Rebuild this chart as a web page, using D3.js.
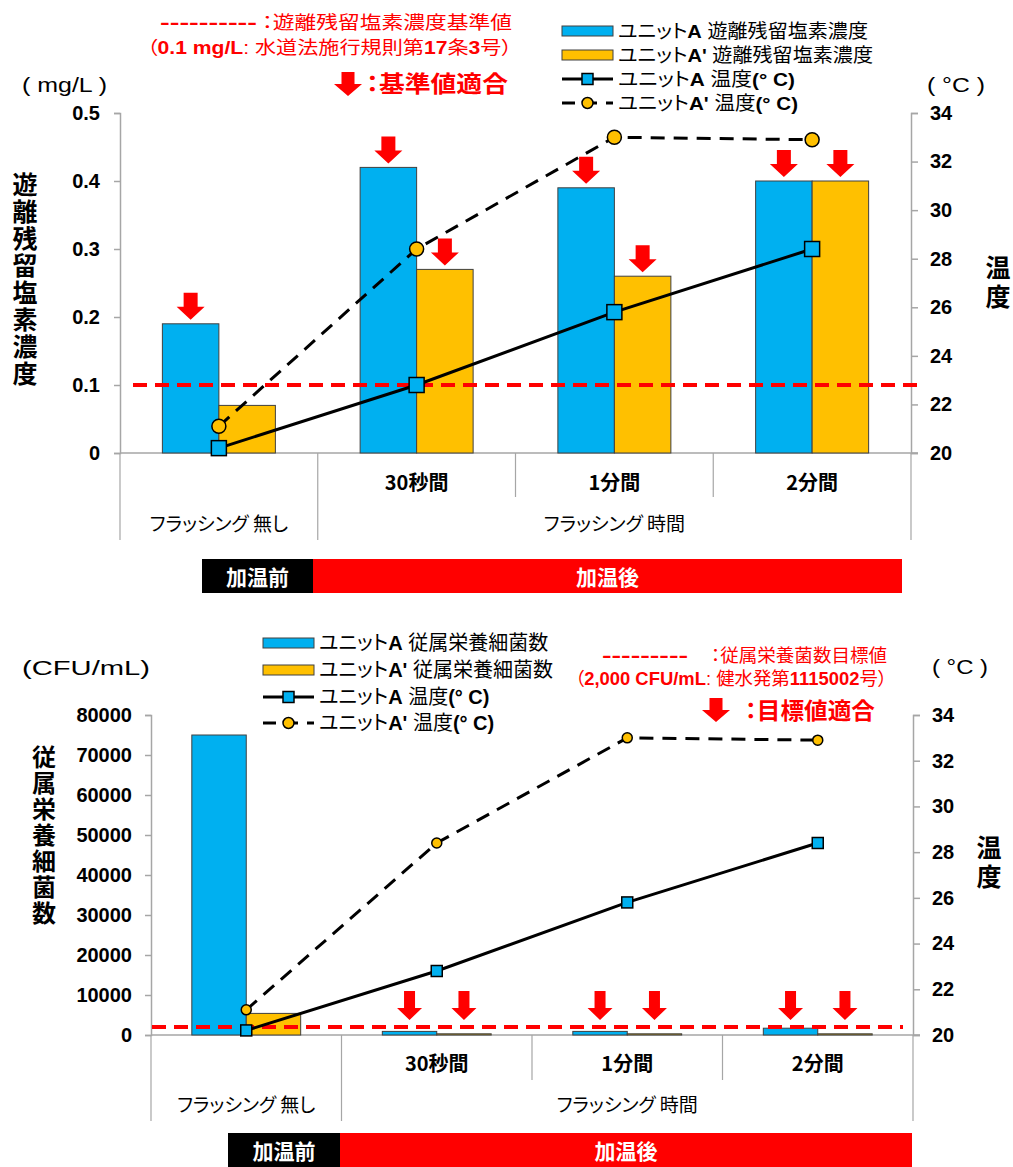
<!DOCTYPE html>
<html>
<head>
<meta charset="utf-8">
<title>フラッシング 遊離残留塩素・従属栄養細菌</title>
<script src="https://cdn.jsdelivr.net/npm/d3@7/dist/d3.min.js"></script>
<style>
body { margin: 0; background: #fff; }
text { font-family: "Liberation Sans", Arial, "Noto Sans CJK JP", sans-serif; }
.jp { font-family: "Noto Sans CJK JP", sans-serif; font-feature-settings: "palt"; }
.fb { font-family: "Liberation Sans", "Noto Sans CJK JP", sans-serif; font-feature-settings: "palt"; }
.vt { font-family: "Noto Sans CJK JP", sans-serif; writing-mode: vertical-rl; }
</style>
</head>
<body>
<script>

// ---- data ----
var categories = ["none", "30s", "1m", "2m"];
var catLabels = ["", "30秒間", "1分間", "2分間"];
var groupLabels = ["フラッシング 無し", "フラッシング 時間"];
var groupSpans = [[0, 0], [1, 3]];   // category index range of each group label

var chlorineA  = [0.19, 0.42, 0.39, 0.40];
var chlorineA2 = [0.07, 0.27, 0.26, 0.40];
var bacteriaA  = [75000, 900, 900, 1700];
var bacteriaA2 = [5400, 300, 300, 300];
var tempA  = [20.2, 22.8, 25.8, 28.4];
var tempA2 = [21.1, 28.4, 33.0, 32.9];

var chlorineTicks = [0, 0.1, 0.2, 0.3, 0.4, 0.5];
var bacteriaTicks = [0, 10000, 20000, 30000, 40000, 50000, 60000, 70000, 80000];
var tempTicks = [20, 22, 24, 26, 28, 30, 32, 34];

var chlorineLimit = 0.1;   // 基準値 (以上で適合)
var bacteriaLimit = 2000;  // 目標値 (以下で適合)

var BLUE = "#00b0f0", ORANGE = "#ffc000", RED = "#ff0000", GRAY = "#a6a6a6";

var svg = d3.select("body").append("svg")
  .attr("width", 1013).attr("height", 1167)
  .style("background", "white");

// text made of [string, bold] pieces; latin pieces bold, japanese normal
function richText(g, x, y, parts, o) {
  o = o || {};
  var t = g.append("text").attr("x", x).attr("y", y)
    .attr("dominant-baseline", "central")
    .attr("font-size", o.size || 18)
    .attr("fill", o.fill || "#000");
  if (o.len) t.attr("textLength", o.len).attr("lengthAdjust", "spacingAndGlyphs");
  if (o.anchor) t.attr("text-anchor", o.anchor);
  parts.forEach(function (p) {
    var s = t.append("tspan").text(p[0]);
    if (p[1]) s.attr("font-weight", "bold");
    else s.attr("class", o.cls || "jp");
  });
  return t;
}

function arrowPath(cx, tip, w, h, sw, hh) {
  return "M" + (cx - sw / 2) + "," + (tip - h) + "H" + (cx + sw / 2) + "V" + (tip - hh) +
    "H" + (cx + w / 2) + "L" + cx + "," + tip + "L" + (cx - w / 2) + "," + (tip - hh) +
    "H" + (cx - sw / 2) + "Z";
}

function marker(g, kind, cx, cy, fill, size) {
  if (kind === "square") {
    g.append("rect").attr("x", cx - size / 2).attr("y", cy - size / 2)
      .attr("width", size).attr("height", size)
      .attr("fill", fill).attr("stroke", "#000").attr("stroke-width", 1.5);
  } else {
    g.append("circle").attr("cx", cx).attr("cy", cy).attr("r", size / 2)
      .attr("fill", fill).attr("stroke", "#000").attr("stroke-width", 1.5);
  }
}

// vertical title (writing-mode), y = centre of first character
function vTitle(g, chars, x, y, step, size) {
  g.append("text").attr("class", "vt")
    .attr("x", x).attr("y", y - size / 2)
    .attr("font-size", size).attr("font-weight", "bold")
    .attr("letter-spacing", step - size)
    .text(chars);
}

function drawChart(c) {
  var g = svg.append("g");

  var x = d3.scaleBand().domain(categories).range([c.x0, c.x1]);
  var xs = d3.scaleBand().domain(["A", "A2"]).range([0, x.bandwidth()]).paddingOuter(0.75);
  var y = d3.scaleLinear().domain([0, d3.max(c.ticks)]).range([c.yBot, c.yTop]);
  var yt = d3.scaleLinear().domain([20, 34]).range([c.yBot, c.yTop]);
  var mid = function (i) { return x(categories[i]) + x.bandwidth() / 2; };

  // axes
  var left = g.append("g").attr("transform", "translate(" + c.x0 + ",0)")
    .call(d3.axisLeft(y).tickValues(c.ticks).tickSizeOuter(0).tickSize(6)
      .tickPadding(c.padL).tickFormat(function (d) { return String(d); }));
  var right = g.append("g").attr("transform", "translate(" + c.x1 + ",0)")
    .call(d3.axisRight(yt).tickValues(tempTicks).tickSizeOuter(0).tickSize(7)
      .tickPadding(12).tickFormat(function (d) { return String(d); }));
  [left, right].forEach(function (a) {
    a.select(".domain").attr("stroke", GRAY).attr("stroke-width", 1.5);
    a.selectAll(".tick line").attr("stroke", GRAY).attr("stroke-width", 1.5);
    a.selectAll(".tick text").attr("font-size", 20).attr("font-weight", "bold")
      .attr("fill", "#000").attr("font-family", "Liberation Sans, Arial, sans-serif");
  });

  // category axis
  g.append("line").attr("x1", c.x0).attr("x2", c.x1 + 7)
    .attr("y1", c.yBot).attr("y2", c.yBot)
    .attr("stroke", GRAY).attr("stroke-width", 1.5);
  var edges = categories.map(function (d, i) { return i; }).concat([categories.length]);
  var outer = groupSpans.map(function (s) { return s[0]; }).concat([categories.length]);
  g.selectAll(".div").data(edges).enter().append("line")
    .attr("x1", function (i) { return i < categories.length ? x(categories[i]) : c.x1; })
    .attr("x2", function (i) { return i < categories.length ? x(categories[i]) : c.x1; })
    .attr("y1", c.yBot)
    .attr("y2", function (i) { return outer.indexOf(i) >= 0 ? c.yBot + c.outerLen : c.yBot + c.innerLen; })
    .attr("stroke", GRAY).attr("stroke-width", 1.2);
  g.selectAll(".cl").data(catLabels).enter().append("text")
    .attr("class", "jp")
    .attr("x", function (d, i) { return mid(i); })
    .attr("y", c.yBot + c.row1)
    .attr("text-anchor", "middle").attr("dominant-baseline", "central")
    .attr("font-size", 20).attr("font-weight", "bold")
    .text(function (d) { return d; });
  g.selectAll(".gl").data(groupLabels).enter().append("text")
    .attr("class", "jp")
    .attr("x", function (d, i) {
      var s = groupSpans[i];
      return (x(categories[s[0]]) + x(categories[s[1]]) + x.bandwidth()) / 2;
    })
    .attr("y", c.yBot + c.row2)
    .attr("text-anchor", "middle").attr("dominant-baseline", "central")
    .attr("font-size", 19)
    .text(function (d) { return d; });

  // bars
  var bars = [];
  categories.forEach(function (cat, i) {
    bars.push({ cat: cat, key: "A", v: c.barA[i], fill: BLUE });
    bars.push({ cat: cat, key: "A2", v: c.barA2[i], fill: ORANGE });
  });
  g.selectAll(".bar").data(bars).enter().append("rect")
    .attr("x", function (d) { return x(d.cat) + xs(d.key); })
    .attr("y", function (d) { return y(d.v); })
    .attr("width", xs.bandwidth())
    .attr("height", function (d) { return c.yBot - y(d.v); })
    .attr("fill", function (d) { return d.fill; })
    .attr("stroke", "#404040").attr("stroke-width", 1);

  // limit line
  g.append("line").attr("x1", c.limX0).attr("x2", c.limX1)
    .attr("y1", y(c.limit)).attr("y2", y(c.limit))
    .attr("stroke", RED).attr("stroke-width", 4).attr("stroke-dasharray", "14,8");

  // temperature lines
  var line = d3.line().x(function (d, i) { return mid(i); }).y(function (d) { return yt(d); });
  g.append("path").datum(tempA2).attr("d", line).attr("fill", "none")
    .attr("stroke", "#000").attr("stroke-width", 3).attr("stroke-dasharray", "14,9");
  g.append("path").datum(tempA).attr("d", line).attr("fill", "none")
    .attr("stroke", "#000").attr("stroke-width", 3);
  tempA2.forEach(function (d, i) { marker(g, "circle", mid(i), yt(d), ORANGE, c.circ); });
  tempA.forEach(function (d, i) { marker(g, "square", mid(i), yt(d), BLUE, c.sq); });

  // arrows on bars that meet the limit
  g.selectAll(".arr").data(bars.filter(c.pass)).enter().append("path")
    .attr("d", function (d) {
      var cx = x(d.cat) + xs(d.key) + xs.bandwidth() / 2;
      var tip = Math.min(y(d.v), y(c.limit)) - c.arrGap;
      return arrowPath(cx, tip, c.arr[0], c.arr[1], c.arr[2], c.arr[3]);
    })
    .attr("fill", RED);

  // legend
  var lg = g.append("g");
  c.legend.forEach(function (L, i) {
    var ly = c.legY[i], lx = c.legX;
    if (L.type === "bar") {
      lg.append("rect").attr("x", lx).attr("y", ly - 5).attr("width", 51).attr("height", 10)
        .attr("fill", L.fill).attr("stroke", "#404040").attr("stroke-width", 1);
    } else {
      lg.append("line").attr("x1", lx).attr("x2", lx + 51).attr("y1", ly).attr("y2", ly)
        .attr("stroke", "#000").attr("stroke-width", 3)
        .attr("stroke-dasharray", L.dash ? "13,9" : null);
      marker(lg, L.type, lx + 25.5, ly, L.fill, 11);
    }
    richText(lg, lx + 56, ly, L.parts, { size: c.legSize, len: L.len, cls: "fb" });
  });

  // heating period band
  var hb = c.heat;
  g.append("rect").attr("x", hb.x[0]).attr("y", hb.y).attr("width", hb.x[1] - hb.x[0])
    .attr("height", hb.h).attr("fill", "#000");
  g.append("rect").attr("x", hb.x[1]).attr("y", hb.y).attr("width", hb.x[2] - hb.x[1])
    .attr("height", hb.h).attr("fill", RED);
  ["加温前", "加温後"].forEach(function (s, i) {
    g.append("text").attr("class", "jp")
      .attr("x", (hb.x[i] + hb.x[i + 1]) / 2).attr("y", hb.y + hb.h / 2)
      .attr("text-anchor", "middle").attr("dominant-baseline", "central")
      .attr("font-size", 21).attr("font-weight", "bold").attr("fill", "#fff")
      .text(s);
  });

  // unit labels and axis titles
  richText(g, c.unitL[0], c.unitL[1], [[c.unitL[2], 0]], { size: 20, len: c.unitL[3] })
    .select("tspan").attr("class", null);
  richText(g, c.unitR[0], c.unitR[1], [["( °C )", 0]], { size: 20, len: c.unitR[2] })
    .select("tspan").attr("class", null);
  vTitle(g, c.titleL.text, c.titleL.x, c.titleL.y, c.titleL.step, c.titleL.size);
  ["温", "度"].forEach(function (ch, i) {
    g.append("text").attr("class", "fb").attr("x", c.titleR.x).attr("y", c.titleR.y + 29 * i)
      .attr("text-anchor", "middle").attr("dominant-baseline", "central")
      .attr("font-size", 25).attr("font-weight", "bold").text(ch);
  });

  // red notes
  var n = c.note;
  richText(g, n.dash[0], n.dash[1], [[n.dash[2], 1]], { size: 18, fill: RED, len: n.dash[3] });
  richText(g, n.l1[0], n.l1[1], [[n.l1[2], 0]], { size: 18, fill: RED, len: n.l1[3], cls: "fb" });
  richText(g, n.l2[0], n.l2[1], n.l2[2], { size: 18, fill: RED, len: n.l2[3], cls: "fb" });
  g.append("path").attr("d", arrowPath(n.arrow[0], n.arrow[1], 28, 24, 13, 12)).attr("fill", RED);
  richText(g, n.ok[0], n.ok[1], [[n.ok[2], 0]], { size: 23, fill: RED, len: n.ok[3], cls: "fb" })
    .attr("font-weight", "bold");
}

// ---- top chart: 遊離残留塩素 ----
drawChart({
  x0: 120, x1: 911, yTop: 113, yBot: 453, padL: 14,
  ticks: chlorineTicks, barA: chlorineA, barA2: chlorineA2,
  limit: chlorineLimit, limX0: 133, limX1: 925,
  pass: function (d) { return d.v >= chlorineLimit; },
  arr: [28, 27, 14, 13], arrGap: 4, sq: 15, circ: 14,
  row1: 28, row2: 69, innerLen: 44, outerLen: 87,
  legX: 562, legY: [31, 55, 79, 103], legSize: 19,
  legend: [
    { type: "bar", fill: BLUE, len: 250, parts: [["ユニット", 0], ["A", 1], [" 遊離残留塩素濃度", 0]] },
    { type: "bar", fill: ORANGE, len: 255, parts: [["ユニット", 0], ["A'", 1], [" 遊離残留塩素濃度", 0]] },
    { type: "square", fill: BLUE, len: 177, parts: [["ユニット", 0], ["A", 1], [" 温度", 0], ["(° C)", 1]] },
    { type: "circle", fill: ORANGE, dash: true, len: 180, parts: [["ユニット", 0], ["A'", 1], [" 温度", 0], ["(° C)", 1]] }
  ],
  heat: { x: [202, 313, 902], y: 559, h: 34 },
  unitL: [22, 85, "( mg/L )", 85], unitR: [927, 85, 58],
  titleL: { text: "遊離残留塩素濃度", x: 25, y: 184, step: 27, size: 25 },
  titleR: { x: 998, y: 268 },
  note: {
    dash: [160, 23, "----------", 97],
    l1: [262, 23, "：遊離残留塩素濃度基準値", 250],
    l2: [147, 48, [["（", 0], ["0.1 mg/L", 1], [": 水道法施行規則第", 0], ["17", 1], ["条", 0], ["3", 1], ["号）", 0]], 365],
    arrow: [348, 96],
    ok: [366, 84, "：基準値適合", 142]
  }
});

// ---- bottom chart: 従属栄養細菌 ----
drawChart({
  x0: 151, x1: 913, yTop: 715, yBot: 1035, padL: 13,
  ticks: bacteriaTicks, barA: bacteriaA, barA2: bacteriaA2,
  limit: bacteriaLimit, limX0: 152, limX1: 903,
  pass: function (d) { return d.v <= bacteriaLimit; },
  arr: [25, 29, 11, 12], arrGap: 7, sq: 11, circ: 10,
  row1: 27, row2: 68, innerLen: 45, outerLen: 86,
  legX: 263, legY: [643, 670, 697, 723], legSize: 20,
  legend: [
    { type: "bar", fill: BLUE, parts: [["ユニット", 0], ["A", 1], [" 従属栄養細菌数", 0]] },
    { type: "bar", fill: ORANGE, parts: [["ユニット", 0], ["A'", 1], [" 従属栄養細菌数", 0]] },
    { type: "square", fill: BLUE, parts: [["ユニット", 0], ["A", 1], [" 温度", 0], ["(° C)", 1]] },
    { type: "circle", fill: ORANGE, dash: true, parts: [["ユニット", 0], ["A'", 1], [" 温度", 0], ["(° C)", 1]] }
  ],
  heat: { x: [228, 340, 912], y: 1133, h: 34 },
  unitL: [22, 668, "(CFU/mL)", 128], unitR: [932, 667, 56],
  titleL: { text: "従属栄養細菌数", x: 44, y: 757, step: 26, size: 24 },
  titleR: { x: 989, y: 848 },
  note: {
    dash: [602, 656, "---------", 86],
    l1: [711, 656, "：従属栄養菌数目標値", 176],
    l2: [575, 679, [["（", 0], ["2,000 CFU/mL", 1], [": 健水発第", 0], ["1115002", 1], ["号）", 0]], 312],
    arrow: [716, 722],
    ok: [745, 711, "：目標値適合", 130]
  }
});

</script>
</body>
</html>
